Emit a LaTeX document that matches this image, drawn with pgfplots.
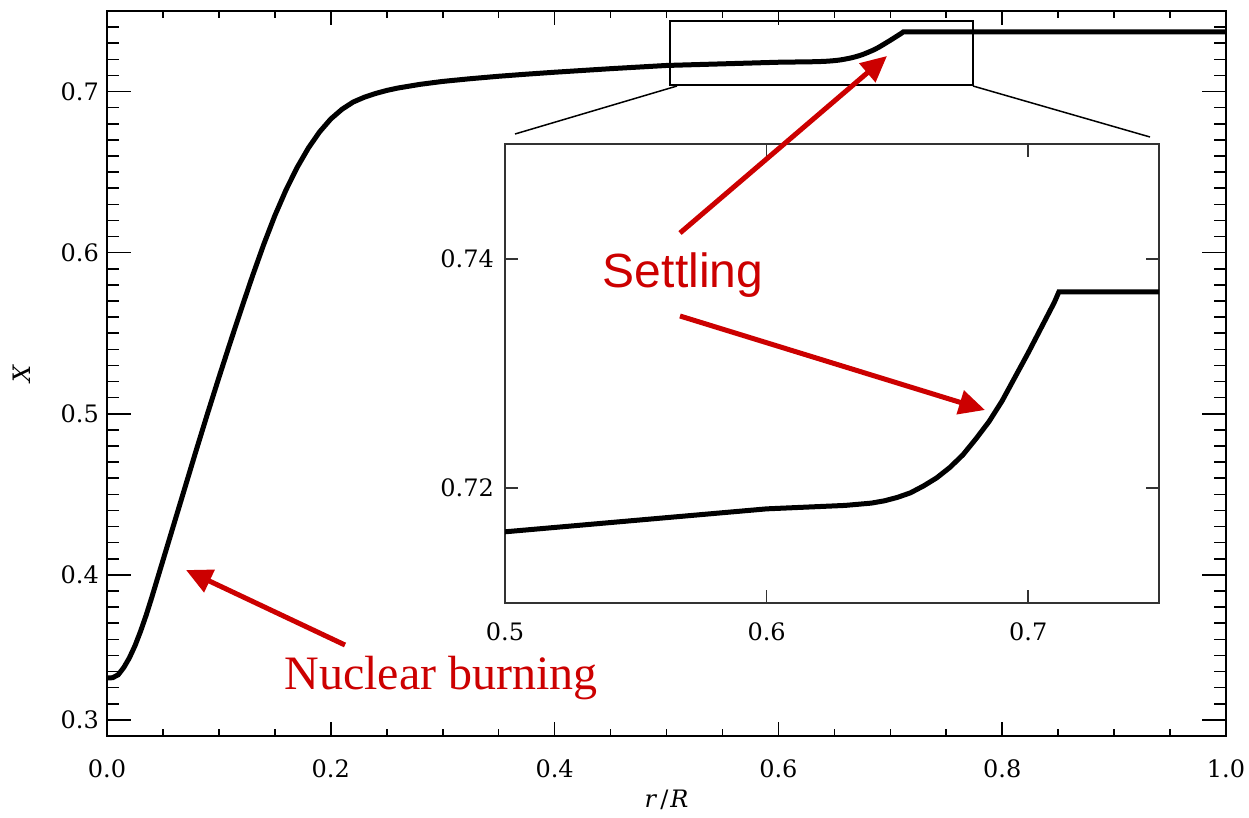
\documentclass[border=0pt]{standalone}
\usepackage{fontspec}
\newfontfamily\arialf{Liberation Sans}
\newfontfamily\timesf{Liberation Serif}
\newfontfamily\tickf{DejaVu Serif}
\usepackage{pgfplots}
\pgfplotsset{compat=1.18}
\usetikzlibrary{arrows.meta}
\definecolor{arrowred}{HTML}{CC0000}
\pgfplotstableread{
r X
0.000 0.3360
0.005 0.3362
0.010 0.3380
0.015 0.3425
0.020 0.3485
0.025 0.3560
0.030 0.3650
0.035 0.3750
0.040 0.3860
0.045 0.3975
0.050 0.4090
0.060 0.4320
0.070 0.4550
0.080 0.4780
0.090 0.5005
0.100 0.5225
0.110 0.5440
0.120 0.5650
0.130 0.5855
0.140 0.6050
0.150 0.6230
0.160 0.6390
0.170 0.6530
0.180 0.6650
0.190 0.6750
0.200 0.6830
0.210 0.6890
0.220 0.6935
0.230 0.6965
0.240 0.6988
0.250 0.7007
0.260 0.7022
0.280 0.7045
0.300 0.7063
0.325 0.7080
0.350 0.7095
0.375 0.7108
0.400 0.7120
0.450 0.7142
0.500 0.7162
0.520 0.7166
0.540 0.7170
0.560 0.7174
0.580 0.7178
0.600 0.7182
0.620 0.7184
0.630 0.7185
0.640 0.7187
0.645 0.7189
0.650 0.7192
0.655 0.7196
0.660 0.7202
0.665 0.7209
0.670 0.7218
0.675 0.7229
0.680 0.7243
0.685 0.7258
0.690 0.7276
0.695 0.7297
0.700 0.7318
0.705 0.7340
0.710 0.7362
0.7117 0.7371
1.000 0.7371
}\profile
\begin{document}
\begin{tikzpicture}
\useasboundingbox (0pt,0pt) rectangle (1249pt,-817pt);
\begin{axis}[
  at={(107pt,-736pt)}, anchor=south west, scale only axis,
  width=1119pt, height=725pt,
  xmin=0, xmax=1, ymin=0.30, ymax=0.75,
  axis line style={line width=1.6pt},
  tick style={line width=1.6pt, black},
  major tick length=24pt, minor tick length=12pt,
  xtick style={/pgfplots/major tick length=14pt,/pgfplots/minor tick length=7pt},
  xtick={0,0.2,0.4,0.6,0.8,1.0},
  minor xtick={0.05,0.1,0.15,0.25,0.3,0.35,0.45,0.5,0.55,0.65,0.7,0.75,0.85,0.9,0.95},
  ytick={0.31,0.4,0.5,0.6,0.7},
  yticklabels={0.3,0.4,0.5,0.6,0.7},
  minor ytick={0.32,0.33,0.34,0.35,0.36,0.37,0.38,0.39,0.41,0.42,0.43,0.44,0.45,0.46,0.47,0.48,0.49,0.51,0.52,0.53,0.54,0.55,0.56,0.57,0.58,0.59,0.61,0.62,0.63,0.64,0.65,0.66,0.67,0.68,0.69,0.71,0.72,0.73,0.74},
  /pgf/number format/assume math mode=true,
  tick label style={font=\tickf\fontsize{24}{28}\selectfont, inner sep=2pt},
  xticklabel style={/pgf/number format/fixed,/pgf/number format/fixed zerofill,/pgf/number format/precision=1, yshift=-21pt},
  yticklabel style={xshift=-6pt},
  xlabel={\textit{r}\kern3pt/\kern2pt\textit{R}},
  ylabel={\textit{X}},
  label style={font=\tickf\fontsize{24}{28}\selectfont},
  xlabel style={at={(axis description cs:0.5,-0.088)}, anchor=center},
  ylabel style={at={(axis description cs:-0.076,0.5)}, anchor=center},
]
\addplot[line width=5pt, black] table[x=r,y=X]{\profile};
\draw[line width=1.5pt] (axis cs:0.503,0.704) rectangle (axis cs:0.774,0.7438);
\end{axis}
\draw[line width=1.5pt] (677pt,-86pt) -- (515pt,-134pt);
\draw[line width=1.5pt] (973pt,-86pt) -- (1150pt,-137pt);
\begin{axis}[
  at={(505pt,-603pt)}, anchor=south west, scale only axis,
  width=654pt, height=459pt,
  xmin=0.5, xmax=0.75, ymin=0.71, ymax=0.75,
  axis background/.style={fill=white},
  axis line style={line width=1.6pt, black!80},
  tick style={line width=1.6pt, black!80},
  major tick length=13pt,
  xtick={0.5,0.6,0.7}, ytick={0.72,0.74},
  /pgf/number format/assume math mode=true,
  tick label style={font=\tickf\fontsize{24}{28}\selectfont, inner sep=2pt},
  xticklabel style={/pgf/number format/fixed,/pgf/number format/fixed zerofill,/pgf/number format/precision=1, yshift=-18pt},
  yticklabel style={/pgf/number format/fixed,/pgf/number format/fixed zerofill,/pgf/number format/precision=2, xshift=-9pt},
]
\addplot[line width=5pt, black] table[x=r,y=X]{\profile};
\end{axis}
\draw[arrowred, line width=5pt, -{Triangle[length=26pt,width=24pt]}] (345pt,-645pt) -- (186pt,-570pt);
\draw[arrowred, line width=5pt, -{Triangle[length=26pt,width=24pt]}] (680pt,-233pt) -- (887pt,-56pt);
\draw[arrowred, line width=5pt, -{Triangle[length=26pt,width=24pt]}] (680pt,-316pt) -- (985pt,-410pt);
\node[text=arrowred, font=\fontsize{48}{56}\arialf] at (683pt,-275pt) {Settling};
\node[text=arrowred, font=\fontsize{48}{56}\timesf] at (441pt,-678pt) {Nuclear burning};
\end{tikzpicture}
\end{document}
